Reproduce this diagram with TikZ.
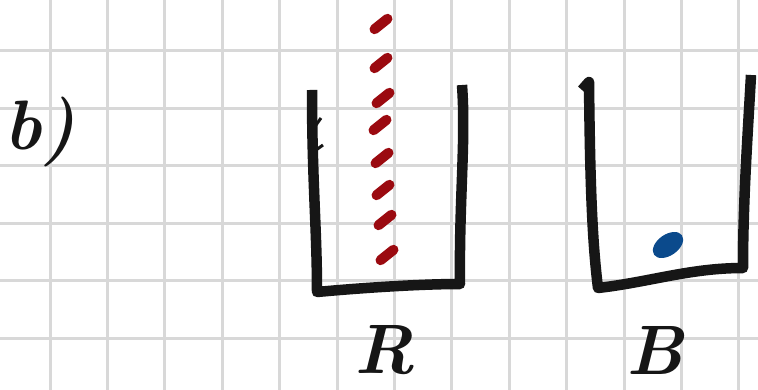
\documentclass[tikz,border=0pt]{standalone}
\usepackage{fontspec}
\definecolor{gridgray}{HTML}{D8D8D8}
\definecolor{ink}{HTML}{161616}
\definecolor{redink}{HTML}{9B0A10}
\definecolor{blueink}{HTML}{0B4A8C}
\begin{document}
\begin{tikzpicture}[x=1pt,y=-1pt,
  gridline/.style={draw=gridgray,line width=3pt},
  wall/.style={draw=ink,line width=10.5pt,line join=round,line cap=butt},
  reddash/.style={draw=redink,line width=10pt,line cap=round},
  label/.style={text=ink,font=\fontsize{70}{70}\selectfont\bfseries\itshape,inner sep=0pt}]
\useasboundingbox[fill=white] (0,0) rectangle (758,390);
% grid
\foreach \i in {0,...,12} {\draw[gridline] ({50+57.4*\i},0) -- ({50+57.4*\i},390);}
\foreach \j in {0,...,5} {\draw[gridline] (0,{51+57.4*\j}) -- (758,{51+57.4*\j});}
% R container
\draw[wall] (312,90) .. controls (312,180) and (317,230) .. (317,292)
  .. controls (360,288) and (420,284) .. (460,284)
  .. controls (459,200) and (466,140) .. (462,85);
\draw[draw=ink,line width=3pt] (316,125) -- (321,118);
\draw[draw=ink,line width=3pt] (316,150) -- (323,145);
% red dashes
\foreach \cx/\cy in {381/24,381/63,383/98,380/125,382/158,383/190,385/220,387/255}
  {\draw[reddash] ({\cx-6.5},{\cy+5.2}) -- ({\cx+6.5},{\cy-5.2});}
% B container
\draw[wall] (582,90) -- (589,82) .. controls (590,180) and (592,240) .. (598,288)
  .. controls (650,282) and (690,268) .. (743,268)
  .. controls (743,200) and (748,130) .. (751,75);
\fill[blueink,rotate around={35:(668,245)}] (668,245) ellipse [x radius=17pt,y radius=10.5pt];
% labels
\node[label] (lb) at (40,132) {b)};
\node[label] (lr) at (385,350) {R};
\node[label] (lB) at (655,350) {B};
\end{tikzpicture}
\end{document}
